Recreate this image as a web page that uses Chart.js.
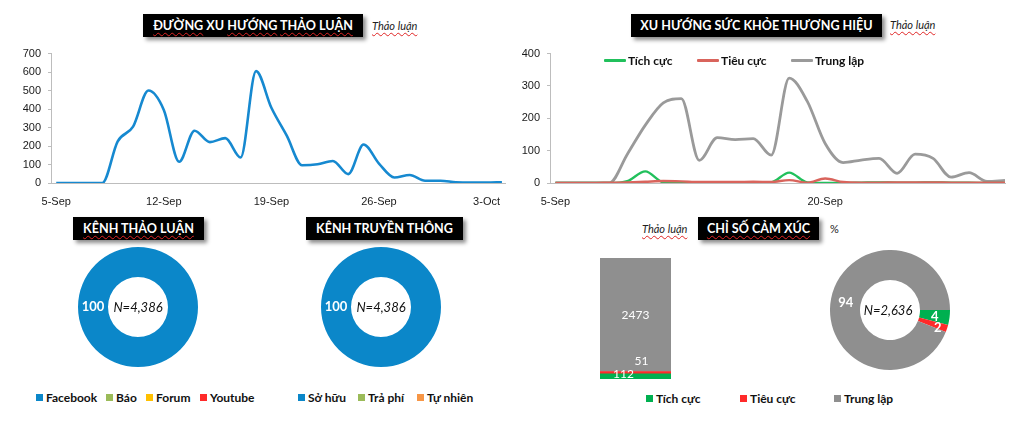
<!DOCTYPE html>
<html lang="vi">
<head>
<meta charset="UTF-8">
<title>Báo cáo thảo luận</title>
<script src="https://cdn.jsdelivr.net/npm/chart.js"></script>
<style>
    html, body { margin: 0; padding: 0; }
    body { width: 1024px; height: 421px; position: relative; overflow: hidden; background: #fff; font-family: Lato, "Open Sans", sans-serif; color: #111; }
    canvas { position: absolute; }
    .box { position: absolute; height: 23px; line-height: 23px; background: #000; color: #fff; font-weight: bold; font-size: 12.6px; text-align: center; white-space: nowrap; box-shadow: 3px 3px 4px rgba(0,0,0,0.45); }
    .note { position: absolute; font-style: italic; font-size: 11px; line-height: 14px; color: #222; white-space: nowrap; }
    .sq { text-decoration: underline wavy #e02525; text-decoration-thickness: 1px; text-underline-offset: 2px; }
    .lg { position: absolute; font-weight: bold; font-size: 12px; line-height: 14px; white-space: nowrap; color: #111; }
    .lg i { display: inline-block; width: 7px; height: 7px; margin-right: 3px; vertical-align: 1px; }
    .lg b.ln { display: inline-block; width: 22px; height: 3px; margin-right: 2px; vertical-align: 3px; border-radius: 1px; }
    .center { position: absolute; font-style: italic; font-size: 13px; line-height: 16px; text-align: center; white-space: nowrap; }
</style>
</head>
<body>
    <!-- tiêu đề -->
    <div class="box" style="left:143px;top:14px;width:220px;"><span class="sq">ĐƯỜNG</span> XU <span class="sq">HƯỚNG</span> <span class="sq">THẢO LUẬN</span></div>
    <div class="note" style="left:372px;top:19px;"><span class="sq">Thảo luận</span></div>
    <div class="box" style="left:631px;top:14px;width:251px;">XU HƯỚNG SỨC KHỎE THƯƠNG HIỆU</div>
    <div class="note" style="left:890px;top:18px;"><span class="sq">Thảo luận</span></div>
    <div class="box" style="left:73px;top:217px;width:131px;"><span class="sq">KÊNH THẢO LUẬN</span></div>
    <div class="box" style="left:306px;top:217px;width:157px;">KÊNH TRUYỀN THÔNG</div>
    <div class="note" style="left:642px;top:222px;"><span class="sq">Thảo luận</span></div>
    <div class="box" style="left:698px;top:217px;width:121px;"><span class="sq">CHỈ SỐ CẢM XÚC</span></div>
    <div class="note" style="left:830px;top:222px;font-style:normal;">%</div>

    <canvas id="trendChart" width="512" height="170" style="left:0;top:40px;"></canvas>
    <canvas id="healthChart" width="512" height="170" style="left:512px;top:40px;"></canvas>
    <canvas id="channelChart" width="120" height="120" style="left:78px;top:247px;"></canvas>
    <canvas id="mediaChart" width="120" height="120" style="left:321px;top:247px;"></canvas>
    <canvas id="sentBarChart" width="91" height="141" style="left:590px;top:248px;"></canvas>
    <canvas id="sentPieChart" width="120" height="120" style="left:830px;top:250px;"></canvas>

    <div class="center" style="left:108px;top:299px;width:60px;">N=4,386</div>
    <div class="center" style="left:351px;top:299px;width:60px;">N=4,386</div>
    <div class="center" style="left:858px;top:302px;width:60px;">N=2,636</div>

    <!-- chú thích -->
    <div class="lg" style="left:604px;top:54px;"><b class="ln" style="background:#21c05c"></b>Tích cực</div>
    <div class="lg" style="left:697px;top:54px;"><b class="ln" style="background:#d9645c"></b>Tiêu cực</div>
    <div class="lg" style="left:791px;top:54px;"><b class="ln" style="background:#9a9a9a"></b>Trung lập</div>

    <div class="lg" style="left:36px;top:391px;"><i style="background:#0b87c9"></i>Facebook</div>
    <div class="lg" style="left:106px;top:391px;"><i style="background:#9bbb59"></i>Báo</div>
    <div class="lg" style="left:146px;top:391px;"><i style="background:#ffc000"></i>Forum</div>
    <div class="lg" style="left:200px;top:391px;"><i style="background:#ff2a2a"></i>Youtube</div>

    <div class="lg" style="left:298px;top:391px;"><i style="background:#0b87c9"></i>Sở hữu</div>
    <div class="lg" style="left:358px;top:391px;"><i style="background:#9bbb59"></i>Trả phí</div>
    <div class="lg" style="left:417px;top:391px;"><i style="background:#f79646"></i>Tự nhiên</div>

    <div class="lg" style="left:646px;top:392px;"><i style="background:#00b050"></i>Tích cực</div>
    <div class="lg" style="left:740px;top:392px;"><i style="background:#ff2a2a"></i>Tiêu cực</div>
    <div class="lg" style="left:834px;top:392px;"><i style="background:#8f8f8f"></i>Trung lập</div>

    <script>
        // Dữ liệu
        const trendDates = ['5-Sep','6-Sep','7-Sep','8-Sep','9-Sep','10-Sep','11-Sep','12-Sep','13-Sep','14-Sep',
            '15-Sep','16-Sep','17-Sep','18-Sep','19-Sep','20-Sep','21-Sep','22-Sep','23-Sep','24-Sep',
            '25-Sep','26-Sep','27-Sep','28-Sep','29-Sep','30-Sep','1-Oct','2-Oct','3-Oct','4-Oct'];
        const trendValues = [0, 0, 0, 0, 225, 305, 500, 395, 115, 283, 221, 243, 138, 605, 407, 256, 96, 101, 119, 48,
            208, 105, 30, 43, 12, 12, 4, 2, 2, 4];
        const trendDateTicks = ['5-Sep', '12-Sep', '19-Sep', '26-Sep', '3-Oct'];
        const trendYTicks = [0, 100, 200, 300, 400, 500, 600, 700];

        const healthDates = ['5-Sep','6-Sep','7-Sep','8-Sep','9-Sep','10-Sep','11-Sep','12-Sep','13-Sep','14-Sep',
            '15-Sep','16-Sep','17-Sep','18-Sep','19-Sep','20-Sep','21-Sep','22-Sep','23-Sep','24-Sep',
            '25-Sep','26-Sep','27-Sep','28-Sep','29-Sep','30-Sep'];
        const positive = [0, 0, 0, 0, 6, 36, 2, 0, 0, 0, 0, 0, 2, 32, 2, 0, 0, 1, 2, 1, 1, 2, 1, 1, 0, 0];
        const negative = [0, 0, 0, 1, 2, 4, 6, 5, 3, 3, 3, 4, 3, 9, 1, 14, 3, 1, 1, 2, 2, 2, 1, 1, 1, 1];
        const neutral = [0, 0, 0, 0, 89, 179, 248, 261, 70, 140, 134, 137, 86, 324, 253, 122, 63, 71, 76, 30,
            89, 76, 18, 32, 5, 8];
        const healthDateTicks = ['5-Sep', '20-Sep'];
        const healthYTicks = [0, 100, 200, 300, 400];

        const channelLabels = ['Facebook', 'Báo', 'Forum', 'Youtube'];
        const channelValues = [100, 0, 0, 0];
        const mediaLabels = ['Sở hữu', 'Trả phí', 'Tự nhiên'];
        const mediaValues = [100, 0, 0];

        const sentimentLabels = ['Tích cực', 'Tiêu cực', 'Trung lập'];
        const sentimentCounts = [112, 51, 2473];
        const sentimentPercent = [4, 2, 94];

        const tickFont = { family: 'Liberation Sans', size: 11 };
        const axisColor = '#bdbdbd';

        // nhãn giá trị trên bánh / cột
        const valueLabels = {
            id: 'valueLabels',
            afterDatasetsDraw(chart, args, opts) {
                if (!opts.show) return;
                const ctx = chart.ctx;
                ctx.save();
                ctx.font = opts.font;
                ctx.fillStyle = '#fff';
                ctx.textAlign = 'center';
                ctx.textBaseline = 'middle';
                chart.data.datasets.forEach((ds, di) => {
                    chart.getDatasetMeta(di).data.forEach((el, i) => {
                        const v = ds.data[i];
                        if (!v) return;
                        const p = el.getCenterPoint();
                        const k = opts.byDataset ? di : i;
                        const off = (opts.offsets && opts.offsets[k]) || [0, 0];
                        ctx.fillText(v, p.x + off[0], p.y + off[1]);
                    });
                });
                ctx.restore();
            }
        };
        Chart.register(valueLabels);
        Chart.defaults.animation = false;
        Chart.defaults.plugins.legend.display = false;
        Chart.defaults.plugins.tooltip.enabled = false;
        Chart.defaults.events = [];

        function lineChart(id, dates, dateTicks, yTicks, datasets, xMin, xMax, yWidth, pad) {
            return new Chart(document.getElementById(id), {
                type: 'line',
                data: { datasets: datasets },
                options: {
                    responsive: false,
                    layout: { padding: pad },
                    elements: { point: { radius: 0 }, line: { cubicInterpolationMode: 'monotone' } },
                    scales: {
                        x: {
                            type: 'linear', min: xMin, max: xMax,
                            grid: { display: false },
                            border: { color: axisColor },
                            afterBuildTicks: s => { s.ticks = dateTicks.map(d => ({ value: dates.indexOf(d) })); },
                            ticks: { color: '#1a1a1a', font: tickFont, maxRotation: 0, padding: 4, callback: v => dates[v] },
                            afterFit: s => { s.height = 27; }
                        },
                        y: {
                            min: yTicks[0], max: yTicks[yTicks.length - 1],
                            grid: { drawOnChartArea: false, tickLength: 3, color: axisColor },
                            border: { color: axisColor },
                            afterBuildTicks: s => { s.ticks = yTicks.map(v => ({ value: v })); },
                            ticks: { color: '#1a1a1a', font: tickFont, padding: 7 },
                            afterFit: s => { s.width = yWidth; }
                        }
                    }
                }
            });
        }

        const pts = arr => arr.map((v, i) => ({ x: i, y: v }));

        lineChart('trendChart', trendDates, trendDateTicks, trendYTicks, [
            { data: pts(trendValues), borderColor: '#1689d0', borderWidth: 2.6 }
        ], -0.34, 29.2, 51, { top: 12, right: 7 });

        lineChart('healthChart', healthDates, healthDateTicks, healthYTicks, [
            { label: sentimentLabels[1], data: pts(negative), borderColor: '#d9645c', borderWidth: 2.4 },
            { label: sentimentLabels[0], data: pts(positive), borderColor: '#21c05c', borderWidth: 2.4 },
            { label: sentimentLabels[2], data: pts(neutral), borderColor: '#9a9a9a', borderWidth: 2.8 }
        ], -0.3, 25, 38, { top: 12, right: 19 });

        function donut(id, labels, values, colors, offsets) {
            return new Chart(document.getElementById(id), {
                type: 'doughnut',
                data: { labels: labels, datasets: [{ data: values, backgroundColor: colors, borderWidth: 0 }] },
                options: {
                    responsive: false,
                    cutout: '50%',
                    rotation: 90,
                    plugins: { valueLabels: { show: true, font: 'bold 13px Lato', offsets: offsets } }
                }
            });
        }

        donut('channelChart', channelLabels, channelValues, ['#0b87c9', '#9bbb59', '#ffc000', '#ff2a2a']);
        donut('mediaChart', mediaLabels, mediaValues, ['#0b87c9', '#9bbb59', '#f79646']);
        donut('sentPieChart', sentimentLabels, sentimentPercent, ['#00b050', '#ff2a2a', '#8f8f8f'],
            [[0, 1], [5, 4], [0, 1]]);

        const sentColors = ['#00b050', '#ff2a2a', '#8f8f8f'];
        new Chart(document.getElementById('sentBarChart'), {
            type: 'bar',
            data: {
                labels: ['Thảo luận'],
                datasets: sentimentLabels.map((l, i) => ({
                    label: l, data: [sentimentCounts[i]], backgroundColor: sentColors[i],
                    barPercentage: 1, categoryPercentage: 1
                }))
            },
            options: {
                responsive: false,
                layout: { padding: 10 },
                scales: {
                    x: { display: false, stacked: true },
                    y: { display: false, stacked: true, min: 0, max: sentimentCounts.reduce((a, b) => a + b, 0) }
                },
                plugins: { valueLabels: { show: true, byDataset: true, font: '12px Lato', offsets: [[-12, -2], [6, -12], [0, 0]] } }
            }
        });
    </script>
</body>
</html>
